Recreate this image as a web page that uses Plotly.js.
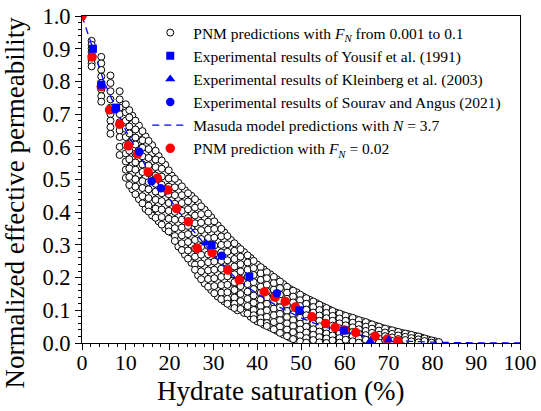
<!DOCTYPE html>
<html>
<head>
<meta charset="utf-8">
<script src="https://cdn.plot.ly/plotly-3.0.1.min.js"></script>
<style>html,body{margin:0;padding:0;background:#fff;}#chart{width:541px;height:411px;}</style>
</head>
<body>
<div id="chart"></div>
<script>
// PNM predictions with F_N from 0.001 to 0.1 : columns of points (hydrate saturation -> list of permeabilities)
const pnmSh = [2.2, 4.4, 6.5, 8.6, 10.0, 11.5, 13.0, 14.5, 16.0, 17.5, 19.0, 20.5, 22.0, 23.5, 25.0, 26.5, 28.0, 29.5, 31.0, 32.5,
  34.0, 35.5, 37.0, 38.5, 40.0, 41.5, 43.0, 44.5, 46.0, 47.5, 49.0, 50.5, 52.0, 53.5, 55.0, 56.5, 58.0, 59.5, 61.0, 62.5,
  64.0, 65.5, 67.0, 68.5, 70.0, 71.5, 73.0, 74.5, 76.0, 77.5, 79.0, 80.5, 81.5];
const pnmKr = [
  [0.924, 0.912, 0.901, 0.89, 0.878, 0.866, 0.855, 0.846],
  [0.875, 0.855, 0.835, 0.815, 0.795, 0.775, 0.755, 0.738],
  [0.818, 0.795, 0.77, 0.745, 0.72, 0.70, 0.68, 0.66, 0.64],
  [0.77, 0.745, 0.72, 0.70, 0.675, 0.65, 0.63, 0.60, 0.575],
  [0.73, 0.705, 0.68, 0.655, 0.63, 0.605, 0.58, 0.555, 0.53, 0.505],
  [0.695, 0.67, 0.645, 0.62, 0.595, 0.57, 0.545, 0.52, 0.495, 0.47],
  [0.665, 0.64, 0.615, 0.59, 0.565, 0.54, 0.515, 0.49, 0.465, 0.44],
  [0.632, 0.607, 0.582, 0.557, 0.532, 0.507, 0.482, 0.457, 0.432, 0.41],
  [0.605, 0.58, 0.555, 0.53, 0.505, 0.48, 0.455, 0.43, 0.405, 0.39],
  [0.572, 0.547, 0.522, 0.497, 0.472, 0.447, 0.422, 0.397, 0.372],
  [0.545, 0.52, 0.495, 0.47, 0.445, 0.42, 0.395, 0.37, 0.35],
  [0.512, 0.487, 0.462, 0.437, 0.412, 0.387, 0.362, 0.337],
  [0.49, 0.465, 0.44, 0.415, 0.39, 0.365, 0.34, 0.315, 0.295],
  [0.467, 0.442, 0.417, 0.392, 0.367, 0.342, 0.317, 0.292, 0.27],
  [0.45, 0.425, 0.40, 0.375, 0.35, 0.325, 0.30, 0.275, 0.245],
  [0.43, 0.405, 0.38, 0.355, 0.33, 0.305, 0.28, 0.255, 0.23, 0.207],
  [0.408, 0.383, 0.358, 0.333, 0.308, 0.283, 0.258, 0.233, 0.208, 0.182],
  [0.385, 0.36, 0.335, 0.31, 0.285, 0.26, 0.235, 0.21, 0.185, 0.162],
  [0.36, 0.337, 0.312, 0.287, 0.262, 0.237, 0.212, 0.187, 0.162, 0.142],
  [0.338, 0.315, 0.29, 0.265, 0.24, 0.215, 0.19, 0.165, 0.145, 0.127],
  [0.315, 0.29, 0.265, 0.24, 0.215, 0.19, 0.165, 0.14, 0.113],
  [0.295, 0.272, 0.25, 0.227, 0.205, 0.182, 0.16, 0.137, 0.115, 0.10],
  [0.278, 0.255, 0.232, 0.21, 0.187, 0.165, 0.142, 0.12, 0.092],
  [0.26, 0.238, 0.216, 0.194, 0.172, 0.15, 0.128, 0.106, 0.08],
  [0.24, 0.22, 0.20, 0.18, 0.16, 0.14, 0.12, 0.10, 0.082, 0.066],
  [0.225, 0.205, 0.185, 0.165, 0.145, 0.125, 0.105, 0.085, 0.068, 0.056],
  [0.21, 0.19, 0.17, 0.15, 0.13, 0.11, 0.09, 0.07, 0.047],
  [0.195, 0.175, 0.155, 0.135, 0.115, 0.095, 0.075, 0.055, 0.037],
  [0.18, 0.16, 0.14, 0.12, 0.10, 0.082, 0.064, 0.045, 0.026],
  [0.165, 0.147, 0.129, 0.111, 0.093, 0.075, 0.057, 0.038, 0.016],
  [0.155, 0.137, 0.119, 0.101, 0.083, 0.065, 0.047, 0.029, 0.009],
  [0.142, 0.124, 0.106, 0.088, 0.07, 0.052, 0.034, 0.017, 0.002],
  [0.132, 0.115, 0.098, 0.081, 0.064, 0.047, 0.03, 0.014, 0.0],
  [0.122, 0.105, 0.088, 0.071, 0.054, 0.037, 0.02, 0.004],
  [0.112, 0.096, 0.08, 0.064, 0.048, 0.032, 0.016, 0.0],
  [0.102, 0.087, 0.072, 0.057, 0.042, 0.027, 0.012, 0.0],
  [0.093, 0.078, 0.063, 0.048, 0.033, 0.018, 0.004],
  [0.086, 0.071, 0.056, 0.041, 0.026, 0.011, 0.0],
  [0.08, 0.065, 0.05, 0.035, 0.02, 0.006],
  [0.073, 0.059, 0.045, 0.031, 0.017, 0.003],
  [0.067, 0.053, 0.039, 0.025, 0.011, 0.0],
  [0.06, 0.047, 0.034, 0.021, 0.008],
  [0.053, 0.04, 0.027, 0.014, 0.002],
  [0.046, 0.034, 0.022, 0.01, 0.0],
  [0.041, 0.03, 0.019, 0.008],
  [0.036, 0.025, 0.014, 0.003],
  [0.031, 0.02, 0.009, 0.0],
  [0.027, 0.017, 0.007],
  [0.022, 0.012, 0.002],
  [0.017, 0.008, 0.0],
  [0.011, 0.003],
  [0.006, 0.0],
  [0.003]
];
// second batch of PNM realisations (columns lying between the first ones)
const pnmSh2 = [10.8, 12.2, 13.8, 15.2, 16.8, 18.2, 19.8, 21.2, 22.8, 24.2, 25.8, 27.2, 28.8, 30.2, 31.8, 33.2, 34.8, 36.2,
  37.8, 39.2, 40.8, 42.2, 43.8, 45.2, 46.8, 48.2, 49.8, 51.2, 52.8, 54.2, 55.8, 57.2, 58.8, 60.2, 61.8, 63.2, 64.8, 66.2,
  67.8, 69.2, 70.8, 72.2, 73.8, 75.2, 76.8, 78.2, 79.8];
const pnmKr2 = [
  [0.712, 0.69, 0.662, 0.641, 0.61, 0.588, 0.562, 0.534, 0.508, 0.483],
  [0.68, 0.653, 0.628, 0.607, 0.579, 0.552, 0.53, 0.501, 0.478, 0.455],
  [0.648, 0.62, 0.597, 0.571, 0.546, 0.523, 0.495, 0.474, 0.449, 0.427],
  [0.618, 0.593, 0.566, 0.543, 0.519, 0.492, 0.47, 0.443, 0.42, 0.402],
  [0.588, 0.561, 0.538, 0.512, 0.487, 0.463, 0.438, 0.411, 0.383],
  [0.558, 0.533, 0.509, 0.484, 0.458, 0.434, 0.408, 0.385, 0.362],
  [0.528, 0.503, 0.478, 0.455, 0.428, 0.404, 0.38, 0.356, 0.341],
  [0.502, 0.476, 0.452, 0.426, 0.401, 0.377, 0.351, 0.327, 0.312],
  [0.479, 0.452, 0.428, 0.404, 0.377, 0.353, 0.329, 0.305, 0.284],
  [0.458, 0.433, 0.409, 0.382, 0.358, 0.333, 0.309, 0.283, 0.258],
  [0.44, 0.414, 0.39, 0.366, 0.338, 0.315, 0.289, 0.264, 0.24, 0.224],
  [0.418, 0.394, 0.368, 0.345, 0.318, 0.294, 0.27, 0.243, 0.219, 0.195],
  [0.396, 0.371, 0.347, 0.321, 0.297, 0.271, 0.247, 0.222, 0.196, 0.172],
  [0.372, 0.349, 0.322, 0.298, 0.273, 0.249, 0.224, 0.198, 0.174, 0.152],
  [0.349, 0.326, 0.30, 0.277, 0.251, 0.227, 0.202, 0.177, 0.154, 0.134],
  [0.327, 0.302, 0.279, 0.253, 0.229, 0.204, 0.178, 0.155, 0.135, 0.12],
  [0.305, 0.282, 0.257, 0.234, 0.21, 0.186, 0.162, 0.139, 0.12, 0.107],
  [0.287, 0.264, 0.241, 0.219, 0.196, 0.174, 0.15, 0.128, 0.104],
  [0.268, 0.246, 0.224, 0.202, 0.18, 0.157, 0.135, 0.113, 0.09],
  [0.251, 0.229, 0.208, 0.186, 0.165, 0.145, 0.123, 0.101, 0.085, 0.073],
  [0.232, 0.213, 0.193, 0.172, 0.153, 0.133, 0.113, 0.094, 0.076, 0.062],
  [0.217, 0.198, 0.178, 0.158, 0.139, 0.12, 0.10, 0.08, 0.061, 0.052],
  [0.202, 0.183, 0.163, 0.144, 0.124, 0.105, 0.085, 0.064, 0.042],
  [0.188, 0.168, 0.148, 0.129, 0.109, 0.089, 0.07, 0.05, 0.031],
  [0.172, 0.154, 0.135, 0.116, 0.098, 0.079, 0.06, 0.041, 0.021],
  [0.16, 0.142, 0.124, 0.106, 0.088, 0.07, 0.052, 0.033, 0.012],
  [0.148, 0.131, 0.113, 0.095, 0.077, 0.059, 0.041, 0.023, 0.005],
  [0.137, 0.12, 0.102, 0.085, 0.067, 0.05, 0.032, 0.015, 0.001],
  [0.127, 0.11, 0.093, 0.076, 0.059, 0.042, 0.025, 0.009],
  [0.117, 0.101, 0.084, 0.068, 0.051, 0.035, 0.018, 0.002],
  [0.107, 0.092, 0.076, 0.06, 0.045, 0.029, 0.014, 0.0],
  [0.098, 0.083, 0.068, 0.053, 0.038, 0.023, 0.008],
  [0.09, 0.075, 0.06, 0.045, 0.03, 0.015, 0.001],
  [0.083, 0.068, 0.054, 0.039, 0.025, 0.01],
  [0.077, 0.062, 0.048, 0.034, 0.02, 0.005],
  [0.07, 0.056, 0.042, 0.028, 0.014, 0.001],
  [0.064, 0.05, 0.037, 0.024, 0.01],
  [0.057, 0.044, 0.031, 0.018, 0.005],
  [0.05, 0.038, 0.025, 0.013, 0.001],
  [0.044, 0.032, 0.021, 0.009],
  [0.039, 0.028, 0.017, 0.006],
  [0.034, 0.023, 0.012, 0.002],
  [0.029, 0.019, 0.009],
  [0.025, 0.015, 0.005],
  [0.02, 0.011, 0.002],
  [0.014, 0.006],
  [0.008, 0.001]
];

// Experimental results
const yousifSh = [2.5, 4.4, 7.8, 29.6, 38.2, 49.6, 59.8];
const yousifKr = [0.90, 0.79, 0.72, 0.30, 0.203, 0.10, 0.038];
const kleinbergSh = [28.3, 65.8, 70.0];
const kleinbergKr = [0.305, 0.006, 0.009];
const souravSh = [7.6, 13.1, 15.9, 18.0, 31.9, 44.5];
const souravKr = [0.715, 0.585, 0.495, 0.473, 0.267, 0.152];

// Masuda model predictions with N = 3.7
const masudaSh = [0, 5, 10, 15, 20, 25, 30, 35, 40, 45, 50, 55, 60, 65, 70, 75, 80, 85, 90, 100];
const masudaKr = [1.0, 0.80, 0.65, 0.53, 0.44, 0.35, 0.27, 0.20, 0.15, 0.11, 0.077, 0.05, 0.034, 0.02, 0.011, 0.005, 0.0026, 0.001, 0.0002, 0];

// PNM prediction with F_N = 0.02
const pnm02Sh = [0, 2.3, 4.4, 6.3, 8.6, 10.6, 12.7, 15.1, 17.2, 19.6, 21.6, 24.3, 26.3, 29.7, 33.3, 35.9, 41.6, 44.1, 46.4, 48.7, 52.5, 55.6, 57.8, 59.9, 62.5, 66.9, 69.7, 72.1];
const pnm02Kr = [1.0, 0.875, 0.784, 0.713, 0.669, 0.603, 0.578, 0.523, 0.504, 0.468, 0.411, 0.371, 0.290, 0.276, 0.223, 0.193, 0.156, 0.140, 0.127, 0.110, 0.080, 0.060, 0.048, 0.040, 0.032, 0.021, 0.012, 0.006];

// Axis titles
const xTitle = 'Hydrate saturation (%)';
const yTitle = 'Normalized effective permeability';

const cloudX = [], cloudY = [];
pnmSh.forEach((sh, i) => pnmKr[i].forEach(k => { cloudX.push(sh); cloudY.push(k); }));
pnmSh2.forEach((sh, i) => pnmKr2[i].forEach(k => { cloudX.push(sh); cloudY.push(k); }));

const FONT = 'Times New Roman';
const BLUE = '#0000ff', RED = '#ff0000';

const traces = [
  {x: cloudX, y: cloudY, type: 'scatter', mode: 'markers', legendrank: 1,
   name: 'PNM predictions with <i>F</i><sub><i>N</i></sub> from 0.001 to 0.1',
   marker: {symbol: 'circle', size: 7, color: '#ffffff', line: {color: '#000000', width: 1}}},
  {x: masudaSh, y: masudaKr, type: 'scatter', mode: 'lines', legendrank: 5,
   name: 'Masuda model predictions with <i>N</i> = 3.7',
   line: {color: BLUE, width: 1.3, dash: '7px,5px'}},
  {x: pnm02Sh, y: pnm02Kr, type: 'scatter', mode: 'markers', legendrank: 6,
   name: 'PNM prediction with <i>F</i><sub><i>N</i></sub> = 0.02',
   marker: {symbol: 'circle', size: 9.5, color: RED}},
  {x: yousifSh, y: yousifKr, type: 'scatter', mode: 'markers', legendrank: 2,
   name: 'Experimental results of Yousif et al. (1991)',
   marker: {symbol: 'square', size: 8, color: BLUE}},
  {x: kleinbergSh, y: kleinbergKr, type: 'scatter', mode: 'markers', legendrank: 3,
   name: 'Experimental results of Kleinberg et al. (2003)',
   marker: {symbol: 'triangle-up', size: 9, color: BLUE}},
  {x: souravSh, y: souravKr, type: 'scatter', mode: 'markers', legendrank: 4,
   name: 'Experimental results of Sourav and Angus (2021)',
   marker: {symbol: 'circle', size: 8.5, color: BLUE}}
];

const layout = {
  width: 541, height: 411,
  margin: {l: 82, r: 21, t: 16, b: 68, autoexpand: false},
  paper_bgcolor: '#ffffff', plot_bgcolor: '#ffffff',
  font: {family: FONT, color: '#000000', size: 20},
  showlegend: true,
  legend: {x: 0.149, y: 1.0, xanchor: 'left', yanchor: 'top', bgcolor: 'rgba(0,0,0,0)',
           font: {family: FONT, size: 15.5, color: '#000'}, itemwidth: 36, tracegroupgap: 0},
  xaxis: {range: [0, 100], dtick: 10, tick0: 0, showgrid: false, zeroline: false,
          showline: true, linecolor: '#000', linewidth: 1, mirror: true,
          ticks: 'outside', ticklen: 6, tickwidth: 1, tickcolor: '#000', ticklabelstandoff: -6,
          tickfont: {family: FONT, size: 22},
          minor: {dtick: 2, ticks: 'outside', ticklen: 3, tickcolor: '#000', showgrid: false}},
  yaxis: {range: [0, 1], dtick: 0.1, tick0: 0, tickformat: '.1f', showgrid: false, zeroline: false,
          showline: true, linecolor: '#000', linewidth: 1, mirror: true,
          ticks: 'outside', ticklen: 6, tickwidth: 1, tickcolor: '#000',
          tickfont: {family: FONT, size: 22.5},
          minor: {dtick: 0.02, ticks: 'outside', ticklen: 3, tickcolor: '#000', showgrid: false}},
  annotations: [
    {text: xTitle, xref: 'paper', yref: 'paper', x: 0.454, y: -0.146, xanchor: 'center', yanchor: 'middle',
     showarrow: false, font: {family: FONT, size: 27, color: '#000'}},
    {text: yTitle, xref: 'paper', yref: 'paper', x: -0.152, y: 0.431, xanchor: 'center', yanchor: 'middle',
     textangle: -90, showarrow: false, font: {family: FONT, size: 27, color: '#000'}}
  ]
};

Plotly.newPlot('chart', traces, layout, {displayModeBar: false, staticPlot: true});
</script>
</body>
</html>
